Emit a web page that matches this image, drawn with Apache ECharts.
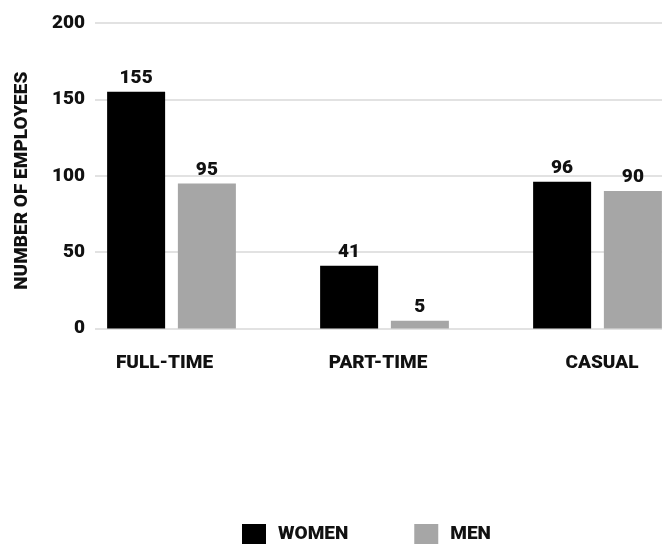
<!DOCTYPE html>
<html>
<head>
<meta charset="utf-8">
<script src="https://cdn.jsdelivr.net/npm/echarts@6/dist/echarts.min.js"></script>
<style>
html,body{margin:0;padding:0;background:#fff;}
#c{width:670px;height:544px;}
</style>
</head>
<body>
<div id="c"></div>
<script>
var categories = ['FULL-TIME', 'PART-TIME', 'CASUAL'];
var women = [155, 41, 96];
var men = [95, 5, 90];
var seriesNames = ['WOMEN', 'MEN'];
var yTicks = { min: 0, max: 200, interval: 50 };
var yAxisTitle = 'NUMBER OF EMPLOYEES';

var FONT = 'Roboto, "Noto Sans", sans-serif';
var chart = echarts.init(document.getElementById('c'), null, { renderer: 'canvas' });
var txt = { fontFamily: FONT, fontWeight: 900, fontSize: 19, color: '#111' };

// small horizontal nudges of the category labels (padding: [top, right, bottom, left])
var catLabelPad = [[0, 14, 0, 0], [0, 13, 0, 0], [0, 0, 0, 9]];

chart.setOption({
  animation: false,
  backgroundColor: '#fff',
  grid: [
    { left: 65, width: 639, top: 23, height: 305.5, containLabel: false, outerBoundsMode: 'none' },
    { left: 95, right: 8, top: 23, height: 305.5, containLabel: false, outerBoundsMode: 'none' }
  ],
  legend: {
    data: seriesNames,
    left: 242,
    bottom: 0,
    padding: 0,
    itemWidth: 24,
    itemHeight: 20,
    itemGap: 66,
    icon: 'rect',
    textStyle: Object.assign({}, txt, { padding: [6, 0, 0, 7] })
  },
  xAxis: [
    {
      type: 'category', gridIndex: 0,
      data: categories.map(function (c, i) { return { value: c, textStyle: { padding: catLabelPad[i] } }; }),
      axisLine: { show: false }, axisTick: { show: false },
      axisLabel: Object.assign({}, txt, { margin: 25 })
    },
    { type: 'category', gridIndex: 1, data: categories, show: false }
  ],
  yAxis: [
    {
      type: 'value', gridIndex: 0, min: yTicks.min, max: yTicks.max, interval: yTicks.interval,
      show: false
    },
    {
      type: 'value', gridIndex: 1, min: yTicks.min, max: yTicks.max, interval: yTicks.interval,
      axisLine: { show: false }, axisTick: { show: false },
      axisLabel: Object.assign({}, txt, { margin: 10 }),
      splitLine: { lineStyle: { color: '#d9d9d9', width: 1.5 } },
      name: yAxisTitle,
      nameLocation: 'middle',
      nameGap: 63,
      nameTextStyle: Object.assign({}, txt, { padding: [0, 10, 0, 0] })
    }
  ],
  series: [
    {
      name: seriesNames[0], type: 'bar', xAxisIndex: 0, yAxisIndex: 0,
      data: women, barWidth: 58, barGap: '22%',
      itemStyle: { color: '#000000' },
      label: Object.assign({ show: true, position: 'top', distance: 4 }, txt)
    },
    {
      name: seriesNames[1], type: 'bar', xAxisIndex: 0, yAxisIndex: 0,
      data: men, barWidth: 58, barGap: '22%',
      itemStyle: { color: '#a6a6a6' },
      label: Object.assign({ show: true, position: 'top', distance: 4 }, txt)
    }
  ]
});
</script>
</body>
</html>
